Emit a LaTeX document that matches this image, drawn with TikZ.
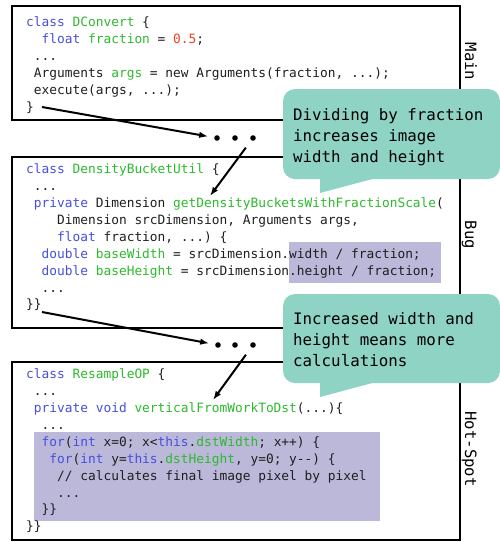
\documentclass[tikz,border=0pt]{standalone}
\usepackage{fontspec}
\setmonofont{DejaVu Sans Mono}
\usepackage{tikz}
\usetikzlibrary{arrows.meta}
\usepackage{xcolor}

\definecolor{kwblue}{RGB}{70,80,220}
\definecolor{idgreen}{RGB}{45,185,45}
\definecolor{numred}{RGB}{235,65,40}
\definecolor{calloutteal}{RGB}{143,211,196}
\definecolor{hilite}{RGB}{187,184,218}
\newcommand{\kwd}[1]{\textcolor{kwblue}{#1}}
\newcommand{\idn}[1]{\textcolor{idgreen}{#1}}
\newcommand{\nmr}[1]{\textcolor{numred}{#1}}

\begin{document}
\begin{tikzpicture}[x=1pt, y=-1pt,
  frame/.style={draw, line width=2pt},
  code/.style={anchor=north west, inner sep=0pt, align=left, text=black!88, font=\ttfamily\fontsize{12.85}{16.9}\selectfont},
  bubble/.style={fill=calloutteal, rounded corners=12pt},
  note/.style={anchor=north west, inner sep=0pt, align=left, font=\ttfamily\fontsize{15.8}{21}\selectfont},
  tag/.style={anchor=base, rotate=-90, inner sep=0pt, font=\ttfamily\fontsize{15.6}{18}\selectfont},
  dot/.style={circle, fill, inner sep=0pt, minimum size=5.6pt},
  arr/.style={-{Latex[length=9pt,width=6.5pt]}, line width=2pt},
]
  \useasboundingbox (0,0) rectangle (500,542);

  \fill[hilite] (289,242) rectangle (441,283);
  \fill[hilite] (34,432) rectangle (380,521);

  \draw[frame] (12,6) rectangle (460,120);
  \draw[frame] (12,157) rectangle (460,328);
  \draw[frame] (12,362) rectangle (460,540);

  \node[code] (mainCode) at (26,14.5) {\rule{0pt}{12pt}\kwd{class} \idn{DConvert} \{\\
    \ \ \kwd{float} \idn{fraction} = \nmr{0.5};\\
    \ ...\\
    \ Arguments \idn{args} = new Arguments(fraction, ...);\\
    \ execute(args, ...);\\
    \}};
  \node[code] (bugCode) at (26,161.5) {\rule{0pt}{12pt}\kwd{class} \idn{DensityBucketUtil} \{\\
    \ ...\\
    \ \kwd{private} Dimension \idn{getDensityBucketsWithFractionScale}(\\
    \ \ \ \ Dimension srcDimension, Arguments args,\\
    \ \ \ \ \kwd{float} fraction, ...) \{\\
    \ \ \kwd{double} \idn{baseWidth} = srcDimension.width / fraction;\\
    \ \ \kwd{double} \idn{baseHeight} = srcDimension.height / fraction;\\
    \ \ ...\\
    \}\}};
  \node[code] (hotCode) at (26,366.5) {\rule{0pt}{12pt}\kwd{class} \idn{ResampleOP} \{\\
    \ ...\\
    \ \kwd{private} \kwd{void} \idn{verticalFromWorkToDst}(...)\{\\
    \ \ ...\\
    \ \ \kwd{for}(\kwd{int} x=0; x<\kwd{this}.\idn{dstWidth}; x++) \{\\
    \ \ \ \kwd{for}(\kwd{int} y=\kwd{this}.\idn{dstHeight}, y=0; y-{}-) \{\\
    \ \ \ \ // calculates final image pixel by pixel\\
    \ \ \ \ ...\\
    \ \ \}\}\\
    \}\}};

  \node[tag] (mainTag) at (465,61.5) {Main};
  \node[tag] (bugTag) at (465,235) {Bug};
  \node[tag] (hotTag) at (465,449) {Hot-Spot};

  \coordinate (mainEnd) at (42,107);
  \coordinate (bugTip) at (210,196);
  \coordinate (bugEnd) at (42,312);
  \coordinate (hotTip) at (213,400);

  \node[dot] (dA1) at (217,138) {};
  \node[dot] (dA2) at (235,138) {};
  \node[dot] (dA3) at (253,138) {};
  \node[dot] (dB1) at (218,345) {};
  \node[dot] (dB2) at (235,345) {};
  \node[dot] (dB3) at (253,345) {};

  \draw[arr, shorten >=6pt] (mainEnd) -- (dA1);
  \draw[arr, shorten <=9pt] (dA3) -- (bugTip);
  \draw[arr, shorten >=6pt] (bugEnd) -- (dB1);
  \draw[arr, shorten <=9pt] (dB3) -- (hotTip);

  \fill[bubble] (283,89) rectangle (500,179);
  \fill[calloutteal] (320,178) -- (320,193) -- (376,178) -- cycle;
  \fill[bubble] (283,294) rectangle (500,383);
  \fill[calloutteal] (320,382) -- (320,397) -- (376,382) -- cycle;

  \node[note] (noteA) at (293,105) {\rule{0pt}{15pt}Dividing by fraction\\increases image\\width and height};
  \node[note] (noteB) at (293,309) {\rule{0pt}{15pt}Increased width and\\height means more\\calculations};
\end{tikzpicture}
\end{document}
